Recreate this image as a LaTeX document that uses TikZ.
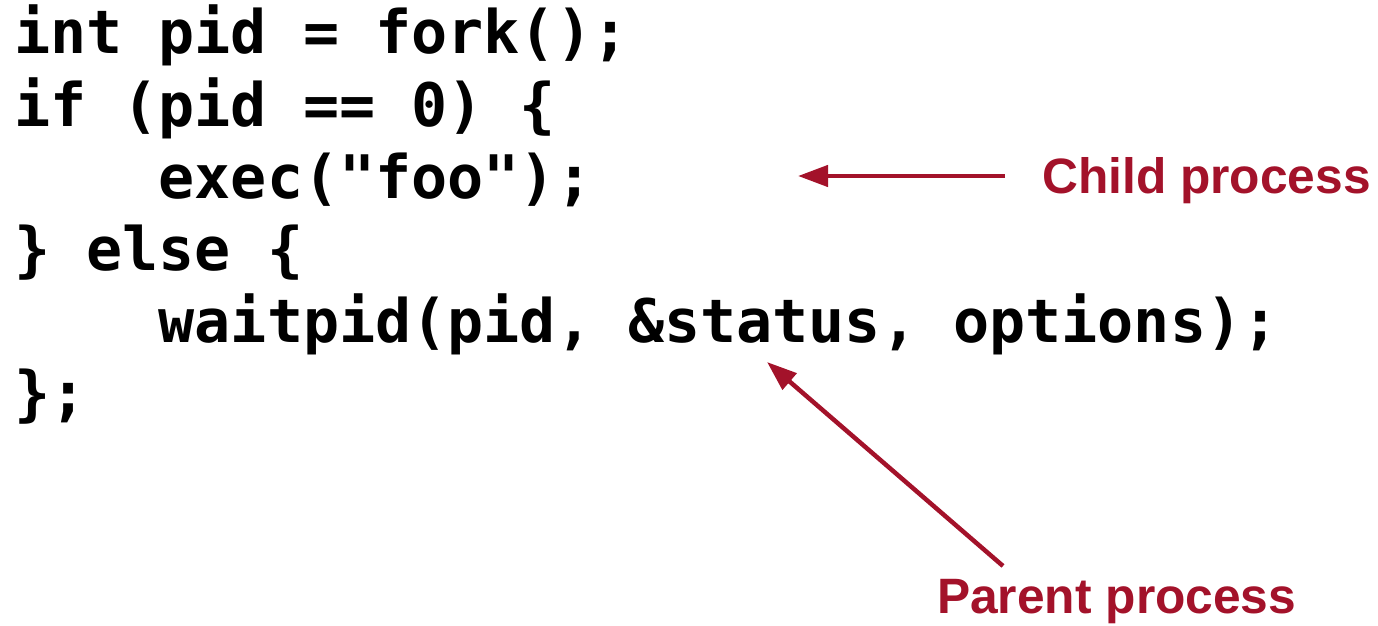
\documentclass[tikz,border=0pt]{standalone}
\usepackage{fontspec}
\usetikzlibrary{arrows.meta}
\newfontfamily\codefont{DejaVu Sans Mono}
\newfontfamily\labelfont{Liberation Sans}
\definecolor{procred}{RGB}{163,18,42}
\begin{document}
\begin{tikzpicture}[x=1pt,y=-1pt,
  codeline/.style={anchor=base west,inner sep=0pt,font=\codefont\bfseries\fontsize{60}{60}\selectfont},
  proclabel/.style={anchor=base west,inner sep=0pt,text=procred,font=\labelfont\bfseries\fontsize{49.7}{49.7}\selectfont},
  pointer/.style={draw=procred,line width=4.5pt,-{Triangle[length=30pt,width=21pt]}}]
  \useasboundingbox (0,0) rectangle (1378,626);
  % source listing
  \node[codeline] (l1) at (14,54)  {int pid = fork();};
  \node[codeline] (l2) at (14,126) {if (pid == 0) \{};
  \node[codeline] (l3) at (14,198) {\ \ \ \ exec("foo");};
  \node[codeline] (l4) at (14,270) {\} else \{};
  \node[codeline] (l5) at (14,342) {\ \ \ \ waitpid(pid, \&status, options);};
  \node[codeline] (l6) at (14,414) {\};};
  % annotations
  \node[proclabel] (child)  at (1042,193) {Child process};
  \node[proclabel] (parent) at (937,613)  {Parent process};
  \coordinate (childtail) at (1005,176);
  \coordinate (childtip) at (798,176);
  \coordinate (parenttail) at (1003,566);
  \coordinate (parenttip) at (767,362);
  \draw[pointer] (childtail) -- (childtip);
  \draw[pointer] (parenttail) -- (parenttip);
\end{tikzpicture}
\end{document}
